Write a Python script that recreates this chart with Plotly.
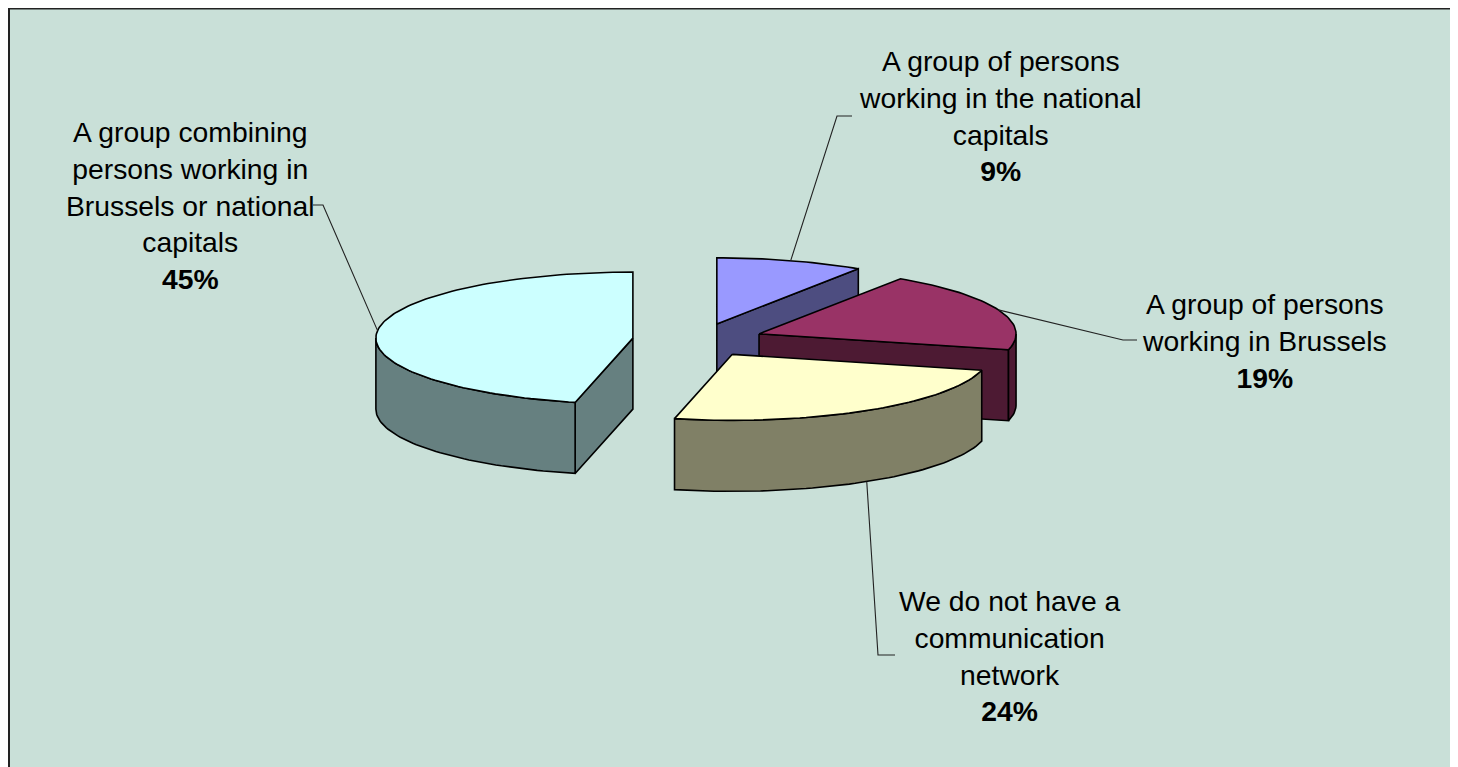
import math
import plotly.graph_objects as go

# ---- data ----
categories = [
    "A group of persons<br>working in the national<br>capitals",
    "A group of persons<br>working in Brussels",
    "We do not have a<br>communication<br>network",
    "A group combining<br>persons working in<br>Brussels or national<br>capitals",
]
values = [9, 19, 24, 45]
top_colors = ["#9999FF", "#993366", "#FFFFCC", "#CCFFFF"]
side_colors = ["#4D4D80", "#4D1A33", "#808066", "#668080"]

# ---- layout / geometry (styling) ----
W, H = 1458, 767
OFF = 8                    # page body margin compensation
CX, CY = 698, 340          # pie centre (pixels)
RX, RY = 257, 66           # ellipse radii
DEPTH = 71                 # thickness
EXPLODE = 0.255
BG = "#C9E0D8"
FONT = "Liberation Sans, Arial, sans-serif"
FS = 28.3

label_pos = [(1000, 116), (1264, 341), (1010, 656), (190, 205)]
leader_knees = [
    [(852, 116), (837, 116)],
    [(1137, 340), (1123, 340)],
    [(895, 655), (878, 655)],
    [(313, 205), (323, 205)],
]

fig = go.Figure()


def pt(cx, cy, ang, dy=0.0):
    r = math.radians(ang)
    return cx + RX * math.sin(r), cy - RY * math.cos(r) + dy


def arc(cx, cy, a0, a1, dy=0.0, n=None):
    if n is None:
        n = max(2, int(abs(a1 - a0) / 1.5) + 1)
    pts = []
    for i in range(n + 1):
        a = a0 + (a1 - a0) * i / n
        pts.append(pt(cx, cy, a, dy))
    return pts


def poly(points, fill):
    xs = [p[0] for p in points] + [points[0][0]]
    ys = [p[1] for p in points] + [points[0][1]]
    fig.add_trace(go.Scatter(
        x=xs, y=ys, mode="lines", fill="toself", fillcolor=fill,
        line=dict(color="black", width=1.6), hoverinfo="skip",
        showlegend=False))


total = sum(values)
slices = []
acc = 0.0
for i, v in enumerate(values):
    a0 = acc / total * 360.0
    acc += v
    a1 = acc / total * 360.0
    mid = (a0 + a1) / 2
    mr = math.radians(mid)
    cx = CX + EXPLODE * RX * math.sin(mr)
    cy = CY - EXPLODE * RY * math.cos(mr)
    slices.append(dict(i=i, a0=a0, a1=a1, mid=mid, cx=cx, cy=cy))

# background panel
fig.add_shape(type="rect", x0=9, y0=8.5, x1=W + 20, y1=H + 20,
              fillcolor=BG, line=dict(color="#222222", width=2), layer="below")

# draw back to front
for s in sorted(slices, key=lambda d: d["cy"]):
    i, a0, a1, cx, cy = s["i"], s["a0"], s["a1"], s["cx"], s["cy"]
    side = side_colors[i]
    eps = 1e-6
    if math.sin(math.radians(a0)) < -eps:
        p = pt(cx, cy, a0)
        poly([(cx, cy), p, (p[0], p[1] + DEPTH), (cx, cy + DEPTH)], side)
    if math.sin(math.radians(a1)) > eps:
        p = pt(cx, cy, a1)
        poly([(cx, cy), p, (p[0], p[1] + DEPTH), (cx, cy + DEPTH)], side)
    w0, w1 = max(a0, 90.0), min(a1, 270.0)
    if w1 > w0:
        top = arc(cx, cy, w0, w1)
        bot = arc(cx, cy, w1, w0, dy=DEPTH)
        poly(top + bot, side)
    poly([(cx, cy)] + arc(cx, cy, a0, a1), top_colors[i])

# leader lines and labels
for s in slices:
    i, mid = s["i"], s["mid"]
    front = math.cos(math.radians(mid)) < 0
    anchor = pt(s["cx"], s["cy"], mid, DEPTH if front else 0)
    pts = leader_knees[i] + [anchor]
    fig.add_trace(go.Scatter(
        x=[p[0] for p in pts], y=[p[1] for p in pts], mode="lines",
        line=dict(color="#222222", width=1.1), hoverinfo="skip",
        showlegend=False))
    lx, ly = label_pos[i]
    fig.add_annotation(
        x=lx, y=ly, xref="x", yref="y", showarrow=False,
        text=f"{categories[i]}<br><b>{values[i]}%</b>",
        font=dict(family=FONT, size=FS, color="black"),
        align="center", xanchor="center", yanchor="middle")

fig.update_layout(
    width=W, height=H, margin=dict(l=0, r=0, t=0, b=0),
    paper_bgcolor="white", plot_bgcolor="white",
    xaxis=dict(range=[OFF, W + OFF], visible=False, fixedrange=True),
    yaxis=dict(range=[H + OFF, OFF], visible=False, fixedrange=True),
    showlegend=False,
)

fig.write_html("out.html")
